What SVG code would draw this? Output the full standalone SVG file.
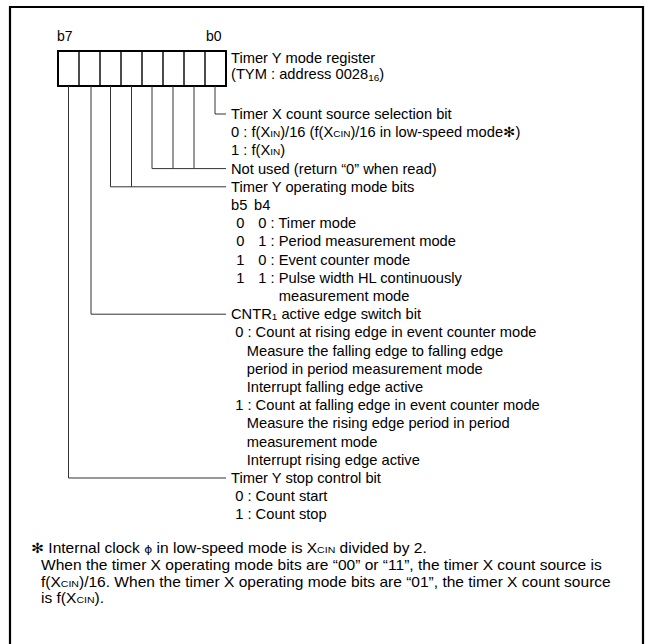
<svg xmlns="http://www.w3.org/2000/svg" width="646" height="644" viewBox="0 0 646 644">
<style>
.t{font-family:"Liberation Sans",Arial,sans-serif;font-size:14px;fill:#000}
.s{font-size:9.5px}
.ld{fill:none;stroke:#333;stroke-width:1}
.box{fill:#fff;stroke:#000;stroke-width:2}
.div{stroke:#000;stroke-width:1.4}
.sym{font-family:"DejaVu Sans",sans-serif;font-weight:bold}
</style>
<rect width="646" height="644" fill="#fff"/>
<path d="M10 644V7H643V644" fill="none" stroke="#000" stroke-width="2.2"/>
<g id="register">
<rect class="box" x="58" y="51" width="168" height="35"/>
<path class="div" d="M79 51V86M100 51V86M121 51V86M142 51V86M163 51V86M184 51V86M205 51V86"/>
<text class="t" x="57" y="41">b7</text>
<text class="t" x="206" y="41">b0</text>
<g transform="translate(231 0) scale(1.05 1) translate(-231 0)">
<text class="t" x="231" y="63">Timer Y mode register</text>
<text class="t" x="231" y="79">(TYM : address 0028<tspan class="s" dy="2">16</tspan><tspan dy="-2">)</tspan></text>
</g>
</g>
<g id="connectors">
<path class="ld" d="M215 86V114H226"/>
<path class="ld" d="M194 86V168.6M173 86V168.6M152 86V168.6H226"/>
<path class="ld" d="M131.5 86V186.8M110.5 86V186.8H226"/>
<path class="ld" d="M91 86V314.2H226"/>
<path class="ld" d="M68.5 86V478H226"/>
</g>
<g transform="translate(231 0) scale(1.05 1) translate(-231 0)">
<g id="bit0">
<text class="t" x="231" y="119">Timer X count source selection bit</text>
<text class="t" x="231" y="137.2">0 : f(X<tspan class="s">IN</tspan>)/16 (f(X<tspan class="s">CIN</tspan>)/16 in low-speed mode<tspan class="sym">✻</tspan>)</text>
<text class="t" x="231" y="155.4">1 : f(X<tspan class="s">IN</tspan>)</text>
</g>
<g id="bits3-1">
<text class="t" x="231" y="173.6">Not used (return “0” when read)</text>
</g>
<g id="bits5-4">
<text class="t" x="231" y="191.8">Timer Y operating mode bits</text>
<text class="t" x="231" y="210">b5</text><text class="t" x="253" y="210">b4</text>
<text class="t" x="236" y="228.2">0</text><text class="t" x="257" y="228.2">0 : Timer mode</text>
<text class="t" x="236" y="246.4">0</text><text class="t" x="257" y="246.4">1 : Period measurement mode</text>
<text class="t" x="236" y="264.6">1</text><text class="t" x="257" y="264.6">0 : Event counter mode</text>
<text class="t" x="236" y="282.8">1</text><text class="t" x="257" y="282.8">1 : Pulse width HL continuously</text>
<text class="t" x="276.5" y="301">measurement mode</text>
</g>
<g id="bit6">
<text class="t" x="231" y="319.2">CNTR<tspan class="s" dy="1">1</tspan><tspan dy="-1"> active edge switch bit</tspan></text>
<text class="t" x="235" y="337.4">0 : Count at rising edge in event counter mode</text>
<text class="t" x="246" y="355.6">Measure the falling edge to falling edge</text>
<text class="t" x="246" y="373.8">period in period measurement mode</text>
<text class="t" x="246" y="392">Interrupt falling edge active</text>
<text class="t" x="235" y="410.2">1 : Count at falling edge in event counter mode</text>
<text class="t" x="246" y="428.4">Measure the rising edge period in period</text>
<text class="t" x="246" y="446.6">measurement mode</text>
<text class="t" x="246" y="464.8">Interrupt rising edge active</text>
</g>
<g id="bit7">
<text class="t" x="231" y="483">Timer Y stop control bit</text>
<text class="t" x="235" y="501.2">0 : Count start</text>
<text class="t" x="235" y="519.4">1 : Count stop</text>
</g>
</g>
<g id="footnote" transform="translate(41 0) scale(1.11 1) translate(-41 0)">
<text class="t" x="32" y="553"><tspan class="sym">✻</tspan> Internal clock <tspan font-family="DejaVu Sans,sans-serif" font-size="11">ϕ</tspan> in low-speed mode is X<tspan class="s">CIN</tspan> divided by 2.</text>
<text class="t" x="41" y="569.8">When the timer X operating mode bits are “00” or “11”, the timer X count source is</text>
<text class="t" x="41" y="586.6">f(X<tspan class="s">CIN</tspan>)/16. When the timer X operating mode bits are “01”, the timer X count source</text>
<text class="t" x="41" y="603.4">is f(X<tspan class="s">CIN</tspan>).</text>
</g>
</svg>
